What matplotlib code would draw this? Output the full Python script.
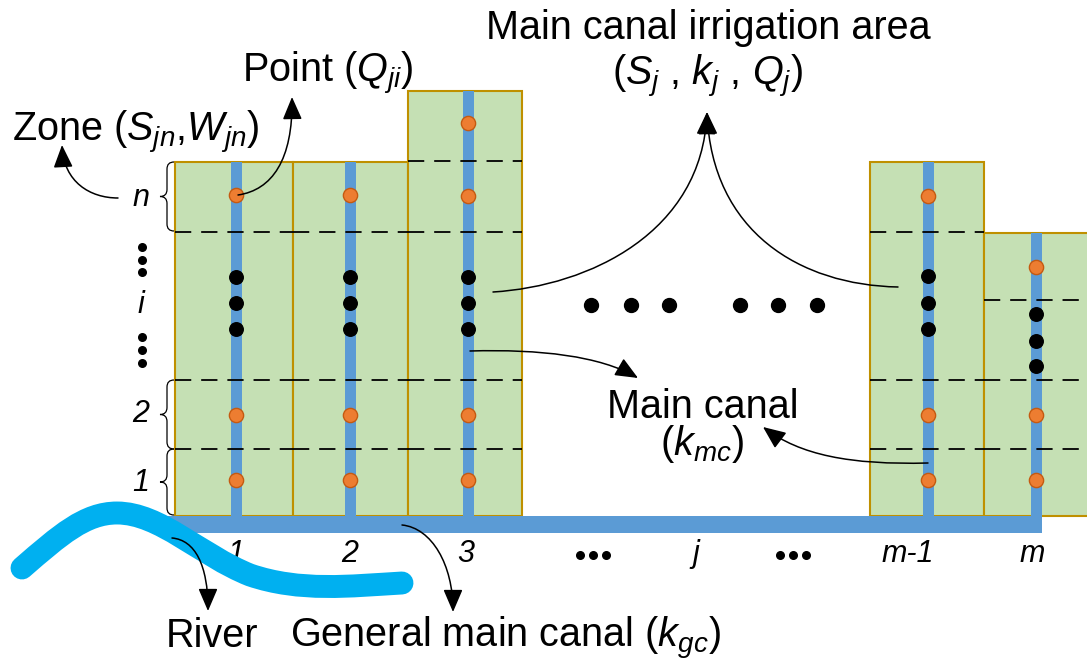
import matplotlib
matplotlib.use("Agg")
import matplotlib.pyplot as plt
from matplotlib.patches import Rectangle, FancyArrowPatch, PathPatch
from matplotlib.path import Path

plt.rcParams["font.family"] = ["Liberation Sans", "DejaVu Sans"]
plt.rcParams["mathtext.fontset"] = "custom"
plt.rcParams["mathtext.rm"] = "Liberation Sans"
plt.rcParams["mathtext.it"] = "Liberation Sans:italic"

# --- layout data (pixel space of the 1087x660 sketch) ---
COL_LABELS = ["1", "2", "3", "m-1", "m"]
COL_LEFT   = [175, 293, 408, 870, 984]
COL_RIGHT  = [293, 408, 522, 984, 1100]
COL_TOP    = [162, 162, 91, 162, 233]
CANAL_X    = [236, 350, 468, 928, 1036]
GROUND_Y   = 516

# zone points (orange) and "..." points (black) per column
POINTS_Y = [[195, 415, 480], [195, 415, 480], [123, 196, 415, 480],
            [196, 415, 480], [267, 415, 480]]
ETC_Y    = [[277, 303, 329], [277, 303, 329], [277, 303, 329],
            [276, 303, 329], [314, 341, 366]]
# zone boundaries (dashed) per column
DASH_Y   = [[232, 380, 449], [232, 380, 449], [161, 232, 380, 449],
            [232, 380, 449], [300, 380, 449]]

# middle gap markers
GAP_DOTS_X = [591, 631, 669, 740, 778, 817]
GAP_DOTS_Y = 305
BOTTOM_LABELS = ["1", "2", "3", "j", "m-1", "m"]
BOTTOM_X      = [236, 350, 466, 696, 908, 1032]
ELLIPSIS_X    = [593, 793]

# left zone index
ZONE_LABELS = ["n", "i", "2", "1"]
ZONE_LAB_Y  = [206, 313, 422, 491]
BRACES      = [(162, 231), (380, 449), (449, 515)]
VDOTS_Y     = [247, 260, 272, 337, 350, 363]

GREEN  = "#c5e0b4"
GOLD   = "#bf9000"
CANAL  = "#5b9bd5"
ORANGE = "#ed7d31"
RIVER  = "#00b0f0"

fig = plt.figure(figsize=(10.87, 6.6), dpi=100)
ax = fig.add_axes([0, 0, 1, 1])
ax.set_xlim(0, 1087)
ax.set_ylim(660, 0)
ax.axis("off")

# irrigation blocks
for l, r, t in zip(COL_LEFT, COL_RIGHT, COL_TOP):
    ax.add_patch(Rectangle((l, t), r - l, GROUND_Y - t, facecolor=GREEN,
                           edgecolor=GOLD, lw=1.5, zorder=1))

# main canals + general main canal
for x, t in zip(CANAL_X, COL_TOP):
    ax.add_patch(Rectangle((x - 5.5, t), 11, GROUND_Y - t + 8,
                           facecolor=CANAL, edgecolor="none", zorder=2))
ax.add_patch(Rectangle((168, GROUND_Y), CANAL_X[-1] + 5.5 - 168, 17,
                       facecolor=CANAL, edgecolor="none", zorder=2))

# zone boundaries
for l, r, ys in zip(COL_LEFT, COL_RIGHT, DASH_Y):
    for y in ys:
        ax.plot([l, r], [y, y], color="black", lw=1.3, dashes=(9, 5.5),
                zorder=3)

# points
for x, ys in zip(CANAL_X, POINTS_Y):
    ax.scatter([x] * len(ys), ys, s=105, color=ORANGE, edgecolors="#c55a11",
               linewidths=1, zorder=4)
for x, ys in zip(CANAL_X, ETC_Y):
    ax.scatter([x] * len(ys), ys, s=95, color="black", zorder=4)
ax.scatter(GAP_DOTS_X, [GAP_DOTS_Y] * len(GAP_DOTS_X), s=100, color="black",
           zorder=4)

# bottom column indices
for lab, x in zip(BOTTOM_LABELS, BOTTOM_X):
    ax.text(x, 562, lab, fontsize=22, style="italic", ha="center",
            va="baseline")
for x in ELLIPSIS_X:
    ax.scatter([x - 13, x, x + 13], [555] * 3, s=30, color="black")

# zone labels and braces on the left
for lab, y in zip(ZONE_LABELS, ZONE_LAB_Y):
    ax.text(141, y, lab, fontsize=22, style="italic", ha="center",
            va="baseline")
ax.scatter([142] * len(VDOTS_Y), VDOTS_Y, s=30, color="black")


def brace(y1, y2, xr=174, w=14):
    ym = (y1 + y2) / 2
    h = w / 2
    verts = [(xr, y1), (xr - h, y1), (xr - h, y1 + h),
             (xr - h, ym - h), (xr - h, ym), (xr - w, ym),
             (xr - h, ym), (xr - h, ym + h),
             (xr - h, y2 - h), (xr - h, y2), (xr, y2)]
    codes = [Path.MOVETO, Path.CURVE3, Path.CURVE3,
             Path.LINETO, Path.CURVE3, Path.CURVE3,
             Path.CURVE3, Path.CURVE3,
             Path.LINETO, Path.CURVE3, Path.CURVE3]
    ax.add_patch(PathPatch(Path(verts, codes), facecolor="none",
                           edgecolor="black", lw=0.9, zorder=5))


for y1, y2 in BRACES:
    brace(y1, y2)

# river
river = Path([(22, 568), (60, 535), (85, 513), (117, 513),
              (160, 513), (200, 555), (250, 575),
              (300, 592), (350, 586), (402, 583)],
             [Path.MOVETO, Path.CURVE4, Path.CURVE4, Path.CURVE4,
              Path.CURVE4, Path.CURVE4, Path.CURVE4,
              Path.CURVE4, Path.CURVE4, Path.CURVE4])
ax.add_patch(PathPatch(river, facecolor="none", edgecolor=RIVER, lw=16.5,
                       capstyle="round", joinstyle="round", zorder=6))


def curved_arrow(p0, c1, c2, p1, head=True):
    path = Path([p0, c1, c2, p1],
                [Path.MOVETO, Path.CURVE4, Path.CURVE4, Path.CURVE4])
    style = "-|>,head_length=0.7,head_width=0.3" if head else "-"
    ax.add_patch(FancyArrowPatch(path=path, arrowstyle=style,
                                 mutation_scale=20, color="black", lw=1.1,
                                 shrinkA=0, shrinkB=0, zorder=7))


curved_arrow((118, 198), (90, 198), (64, 182), (62, 145))
curved_arrow((238, 195), (272, 190), (293, 160), (292, 97))
curved_arrow((493, 292), (590, 286), (702, 232), (707, 112))
curved_arrow((898, 287), (800, 285), (712, 232), (707, 112))
curved_arrow((470, 351), (540, 349), (600, 356), (638, 378))
curved_arrow((928, 463), (850, 465), (800, 455), (763, 427))
curved_arrow((172, 538), (195, 540), (208, 565), (208, 611))
curved_arrow((402, 525), (432, 528), (453, 565), (453, 612))

# annotations
FS = 28.5
ax.text(708, 39, "Main canal irrigation area", fontsize=FS, ha="center",
        va="baseline")
ax.text(707, 85, r"($S_j$ , $k_j$ , $Q_j$)", fontsize=FS, ha="center",
        va="baseline")
ax.text(328, 82, r"Point ($Q_{ji}$)", fontsize=FS, ha="center",
        va="baseline")
ax.text(136, 141, r"Zone ($S_{jn}$,$W_{jn}$)", fontsize=FS, ha="center",
        va="baseline")
ax.text(703, 418, "Main canal", fontsize=FS, ha="center", va="baseline")
ax.text(702, 455, r"($k_{mc}$)", fontsize=FS, ha="center", va="baseline")
ax.text(212, 647, "River", fontsize=FS, ha="center", va="baseline")
ax.text(505, 647, r"General main canal ($k_{gc}$)", fontsize=FS,
        ha="center", va="baseline")

fig.savefig("out.png", dpi=100)
